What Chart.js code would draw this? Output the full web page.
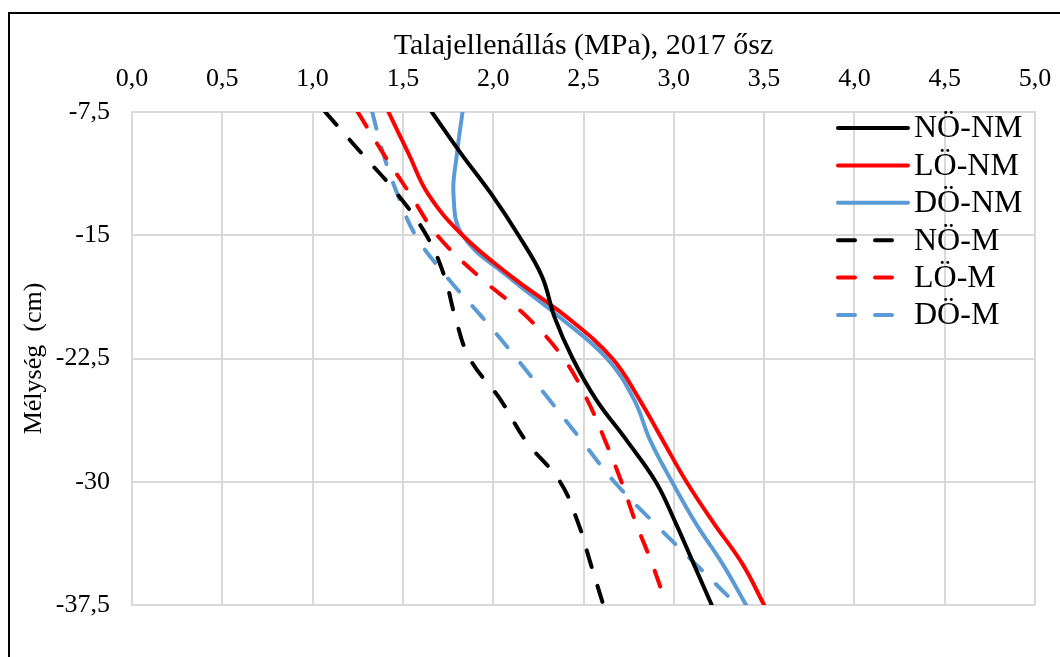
<!DOCTYPE html>
<html>
<head>
<meta charset="utf-8">
<script src="https://cdn.jsdelivr.net/npm/chart.js@4/dist/chart.umd.min.js"></script>
<style>
  html, body { margin: 0; padding: 0; background: #fff; overflow: hidden; }
  #wrap { position: relative; width: 1060px; height: 657px; }
  #frame { position: absolute; left: 8px; top: 12px; width: 1100px; height: 700px;
           border: 2px solid #000; box-sizing: border-box; pointer-events: none; }
  canvas { position: absolute; left: 0; top: 0; }
</style>
</head>
<body>
<div id="wrap">
  <canvas id="c" width="1060" height="657"></canvas>
  <div id="frame"></div>
</div>
<script>
// Mélység (cm)
const depths = [-7.5, -10, -12.5, -15, -17.5, -20, -22.5, -25, -27.5, -30, -32.5, -35, -37.5];

// Talajellenállás (MPa)
const noNM = [1.66, 1.82, 1.99, 2.14, 2.27, 2.34, 2.44, 2.57, 2.74, 2.90, 3.01, 3.11, 3.21];
const loNM = [1.42, 1.53, 1.64, 1.83, 2.10, 2.41, 2.66, 2.81, 2.94, 3.07, 3.22, 3.38, 3.50];
const doNM = [1.83, 1.80, 1.78, 1.83, 2.08, 2.37, 2.63, 2.78, 2.87, 2.99, 3.12, 3.27, 3.40];
const noM  = [1.07, 1.27, 1.47, 1.63, 1.73, 1.79, 1.87, 2.04, 2.18, 2.37, 2.47, 2.54, 2.61];
const loM  = [1.25, 1.39, 1.54, 1.69, 1.92, 2.19, 2.39, 2.52, 2.62, 2.71, 2.79, 2.88, 2.96];
const doM  = [1.33, 1.39, 1.47, 1.57, 1.74, 1.94, 2.13, 2.31, 2.49, 2.67, 2.89, 3.12, 3.35];

const seriesNames = ['NÖ-NM', 'LÖ-NM', 'DÖ-NM', 'NÖ-M', 'LÖ-M', 'DÖ-M'];
const seriesValues = [noNM, loNM, doNM, noM, loM, doM];
const seriesColors = ['#000000', '#ff0000', '#5b9bd5', '#000000', '#ff0000', '#5b9bd5'];
const seriesDashed = [false, false, false, true, true, true];

const xTitle = 'Talajellenállás (MPa), 2017 ősz';
const yTitle = 'Mélység  (cm)';

const SERIF = "'Liberation Serif', 'Times New Roman', serif";
const DASH = [17, 20];

const datasets = seriesNames.map((name, i) => ({
  label: name,
  data: depths.map((d, j) => ({ x: seriesValues[i][j], y: d })),
  borderColor: seriesColors[i],
  backgroundColor: seriesColors[i],
  borderWidth: 4,
  borderCapStyle: 'round',
  borderJoinStyle: 'round',
  borderDash: seriesDashed[i] ? DASH : [],
  pointRadius: 0,
  pointHoverRadius: 0,
  showLine: true,
  tension: 0.4,
  fill: false
}));

// Hungarian decimal comma
const fmtX = v => Number(v).toFixed(1).replace('.', ',');
const fmtY = v => {
  const r = Math.round(v * 10) / 10;
  return Number.isInteger(r) ? String(r) : r.toFixed(1).replace('.', ',');
};

// Legend drawn inside the plot area, top-right
const insideLegend = {
  id: 'insideLegend',
  afterDraw(chart) {
    const ctx = chart.ctx;
    const x0 = 838, x1 = 908, tx = 914, y0 = 128, step = 37.4;
    ctx.save();
    chart.data.datasets.forEach((ds, i) => {
      const y = y0 + i * step;
      ctx.beginPath();
      ctx.strokeStyle = ds.borderColor;
      ctx.lineWidth = 4;
      ctx.lineCap = 'round';
      ctx.setLineDash(ds.borderDash || []);
      ctx.moveTo(x0, y);
      ctx.lineTo(x1, y);
      ctx.stroke();
      ctx.setLineDash([]);
      ctx.fillStyle = '#000';
      ctx.font = '32px ' + SERIF;
      ctx.textAlign = 'left';
      ctx.textBaseline = 'middle';
      ctx.fillText(ds.label, tx, y + 1);
    });
    ctx.restore();
  }
};

new Chart(document.getElementById('c'), {
  type: 'scatter',
  data: { datasets },
  options: {
    responsive: false,
    animation: false,
    events: [],
    layout: { padding: { left: 0, top: 0, right: 25, bottom: 52 } },
    plugins: { legend: { display: false }, tooltip: { enabled: false } },
    scales: {
      x: {
        type: 'linear',
        position: 'top',
        min: 0, max: 5,
        afterFit(s) { s.height = 112; s.paddingLeft = 0; s.paddingRight = 0; },
        grid: { color: '#d9d9d9', lineWidth: 2, drawTicks: false },
        border: { color: '#d9d9d9', width: 2 },
        ticks: {
          stepSize: 0.5, autoSkip: false, maxRotation: 0,
          padding: 17, color: '#000',
          font: { family: SERIF, size: 26 },
          callback: v => fmtX(v)
        },
        title: {
          display: true, text: xTitle, color: '#000',
          font: { family: SERIF, size: 30 },
          padding: { top: 28, bottom: 0 }
        }
      },
      y: {
        type: 'linear',
        position: 'left',
        min: -37.5, max: -7.5,
        afterFit(s) { s.width = 132; s.paddingTop = 0; s.paddingBottom = 0; },
        grid: { color: '#d9d9d9', lineWidth: 2, drawTicks: false },
        border: { color: '#d9d9d9', width: 2 },
        ticks: {
          stepSize: 7.5, autoSkip: false,
          padding: 22, color: '#000',
          font: { family: SERIF, size: 26 },
          callback: v => fmtY(v)
        },
        title: {
          display: true, text: yTitle, color: '#000',
          font: { family: SERIF, size: 26 },
          padding: { top: 19, bottom: 0 }
        }
      }
    }
  },
  plugins: [insideLegend]
});
</script>
</body>
</html>
